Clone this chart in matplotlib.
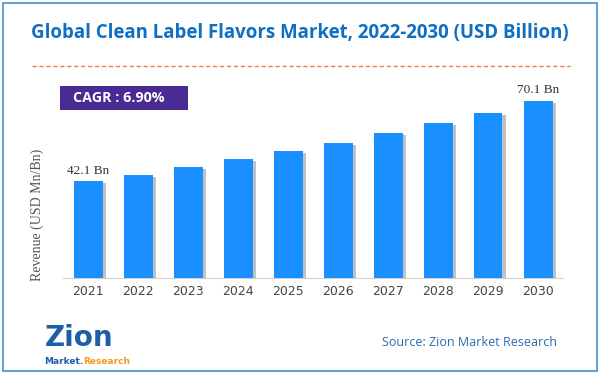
import matplotlib
matplotlib.use("Agg")
import matplotlib.pyplot as plt
import matplotlib.patheffects as pe
from matplotlib.patches import Rectangle
from matplotlib.lines import Line2D

# data
years = ["2021", "2022", "2023", "2024", "2025", "2026", "2027", "2028", "2029", "2030"]
revenue = [42.1, 44.4, 47.0, 49.9, 52.7, 55.4, 58.9, 62.4, 65.9, 70.1]
label_idx = [0, 9]
title = "Global Clean Label Flavors Market, 2022-2030 (USD Billion)"
cagr = "CAGR : 6.90%"
source = "Source: Zion Market Research"

BLUE = "#1a8fff"
W, H = 601, 377

fig = plt.figure(figsize=(W / 100, H / 100), dpi=100)
fig.patch.set_facecolor("white")

# outer frame
fig.add_artist(Rectangle((3 / W, 6 / H), 594 / W, 368 / H, transform=fig.transFigure,
                         fill=False, edgecolor="#4a8ccc", linewidth=1.2))

fig.text(300 / W, 1 - 33 / H, title, ha="center", va="center", fontsize=13.4,
         fontweight="bold", color="#0f6fc2", family="Open Sans")
fig.add_artist(Line2D([32 / W, 570 / W], [1 - 66 / H, 1 - 66 / H], transform=fig.transFigure,
                      color="#f07a3a", linewidth=1, linestyle=(0, (3, 2))))

# CAGR box
fig.add_artist(Rectangle((60 / W, 1 - 110 / H), 128 / W, 24 / H, transform=fig.transFigure,
                         facecolor="#4a2a93", edgecolor="none"))
fig.text(73 / W, 1 - 98 / H, cagr, ha="left", va="center", fontsize=10.3,
         fontweight="bold", color="white", family="Open Sans")

ax = fig.add_axes([63 / W, 1 - 278 / H, 500 / W, 188 / H])
x = range(len(years))
bars = ax.bar(x, revenue, width=0.58, color=BLUE, zorder=3)
for b in bars:
    b.set_path_effects([pe.SimplePatchShadow(offset=(2.5, -1.5), shadow_rgbFace="#777777", alpha=0.45),
                        pe.Normal()])
ax.set_xlim(-0.5, len(years) - 0.5)
ax.set_ylim(8.6, 73.8)
ax.set_xticks(list(x))
ax.set_xticklabels(years, fontsize=9, color="#444444", family="DejaVu Sans")
ax.tick_params(axis="x", length=0, pad=5)
ax.set_yticks([])
for s in ["top", "right", "left"]:
    ax.spines[s].set_visible(False)
ax.spines["bottom"].set_color("#d0d0d0")

for i in label_idx:
    ax.text(i, revenue[i] + 1.6, f"{revenue[i]} Bn", ha="center", va="bottom",
            fontsize=9.5, color="#333333", family="Liberation Serif")

fig.text(37 / W, 1 - 215 / H, "Revenue (USD Mn/Bn)", rotation=90, ha="center", va="center",
         fontsize=10, color="#555555", family="Liberation Serif")

# logo, text only
fig.text(45 / W, 1 - 338 / H, "Zion", ha="left", va="center", fontsize=20,
         fontweight="bold", color="#1d5fa6", family="DejaVu Sans")
mk = fig.text(44 / W, 1 - 361 / H, "Market.", ha="left", va="center", fontsize=6.5,
              fontweight="bold", color="#1d5fa6", family="DejaVu Sans")
ax.annotate("Research", xy=(1, 0), xycoords=mk, ha="left", va="bottom", fontsize=6.5,
            fontweight="bold", color="#f39a1e", family="DejaVu Sans", annotation_clip=False)

fig.text(557 / W, 1 - 342 / H, source, ha="right", va="center", fontsize=9,
         color="#2a6bb0", family="Open Sans")

fig.savefig("out.png", dpi=100)
